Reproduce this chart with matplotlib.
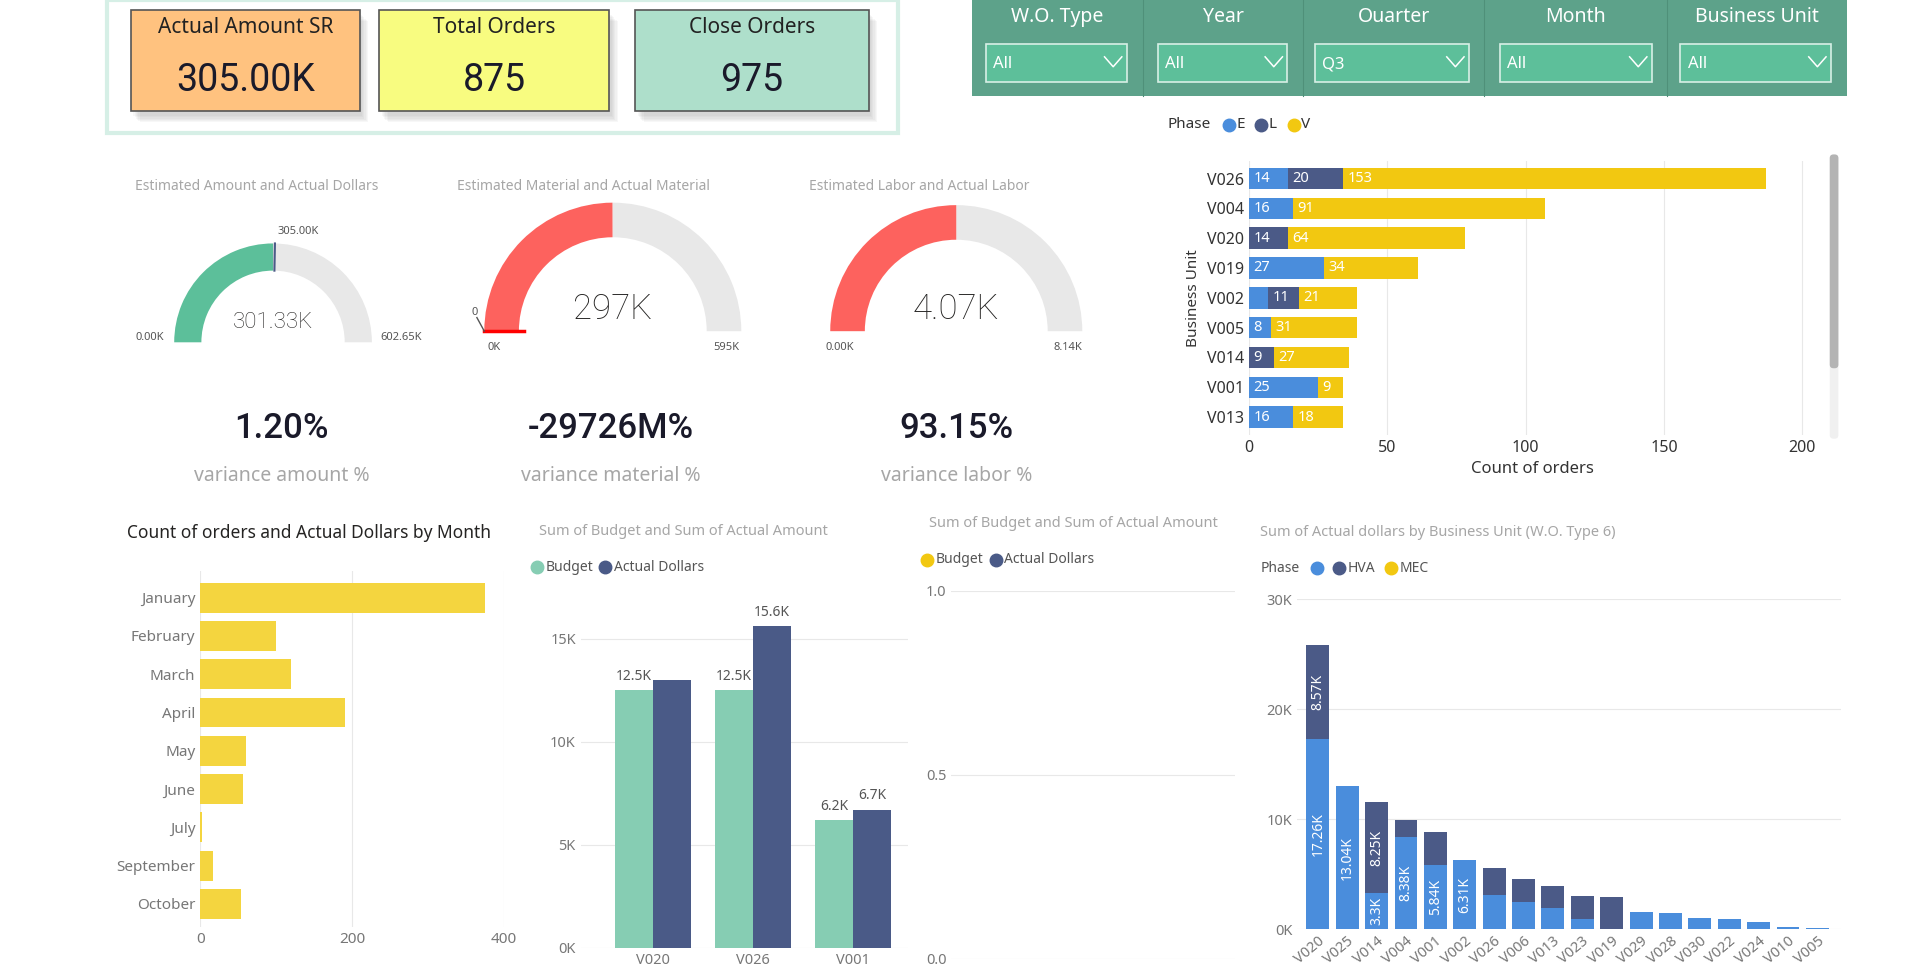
import matplotlib
matplotlib.use("Agg")
import matplotlib.pyplot as plt
from matplotlib.patches import Rectangle, Wedge, FancyBboxPatch
import numpy as np

plt.rcParams['font.family'] = ['Noto Sans', 'DejaVu Sans']

# ---- data ----
cards = ['Actual Amount SR', 'Total Orders', 'Close Orders']
card_values = ['305.00K', '875', '975']

slicers = ['W.O. Type', 'Year', 'Ouarter', 'Month', 'Business Unit']
slicer_values = ['All', 'All', 'Q3', 'All', 'All']

gauge_titles = ['Estimated Amount and Actual Dollars', 'Estimated Material and Actual Material',
                'Estimated Labor and Actual Labor']
gauge_value = [301.33, 297, 4.07]
gauge_max = [602.65, 595, 8.14]
gauge_target = 305.00
gauge_labels = ['301.33K', '297K', '4.07K']
gauge_min_labels = ['0.00K', '0K', '0.00K']
gauge_max_labels = ['602.65K', '595K', '8.14K']

kpi_values = ['1.20%', '-29726M%', '93.15%']
kpi_labels = ['variance amount %', 'variance material %', 'variance labor %']

bu_units = ['V026', 'V004', 'V020', 'V019', 'V002', 'V005', 'V014', 'V001', 'V013']
bu_e = [14, 16, 0, 27, 7, 8, 0, 25, 16]
bu_l = [20, 0, 14, 0, 11, 0, 9, 0, 0]
bu_v = [153, 91, 64, 34, 21, 31, 27, 9, 18]

months = ['January', 'February', 'March', 'April', 'May', 'June', 'July', 'September', 'October']
month_counts = [375, 100, 120, 190, 60, 57, 3, 17, 54]

budget_units = ['V020', 'V026', 'V001']
budget = [12.5, 12.5, 6.2]
actual = [13.0, 15.6, 6.7]
budget_lab = ['12.5K', '12.5K', '6.2K']
actual_lab = ['', '15.6K', '6.7K']

t6_units = ['V020', 'V025', 'V014', 'V004', 'V001', 'V002', 'V026', 'V006', 'V013', 'V023',
            'V019', 'V029', 'V028', 'V030', 'V022', 'V024', 'V010', 'V005']
t6_e = [17.26, 13.04, 3.3, 8.38, 5.84, 6.31, 3.1, 2.45, 1.9, 0.9, 0, 1.6, 1.45, 1.0, 0.9, 0.7, 0.25, 0.08]
t6_hva = [8.57, 0, 8.25, 1.6, 3.0, 0, 2.5, 2.1, 2.0, 2.1, 2.9, 0, 0, 0, 0, 0, 0, 0]
t6_e_lab = ['17.26K', '13.04K', '3.3K', '8.38K', '5.84K', '6.31K']
t6_hva_lab = {0: '8.57K', 2: '8.25K'}

C_E = '#4A8DDC'
C_L = '#4B5A87'
C_V = '#F2C811'
GRAY = '#A6A6A6'

W, H = 1550, 789
fig = plt.figure(figsize=(19.15, 9.75), dpi=100)

# overlay axes in display pixel coords
ov = fig.add_axes([0, 0, 1, 1])
ov.set_xlim(0, W)
ov.set_ylim(H, 0)
ov.axis('off')


def T(x, y, s, **kw):
    kw.setdefault('ha', 'center')
    kw.setdefault('va', 'center')
    ov.text(x, y, s, **kw)


def ax_at(x0, y0, x1, y1):
    a = fig.add_axes([x0 / W, 1 - y1 / H, (x1 - x0) / W, (y1 - y0) / H])
    for s in a.spines.values():
        s.set_visible(False)
    return a


# ---- cards ----
ov.add_patch(Rectangle((87, 0), 640, 108, fc='white', ec='#D6EFE6', lw=3))
card_x = [(106, 291), (307, 493), (514, 703)]
card_c = ['#FFC27F', '#F8FC80', '#AEDFCB']
for (x0, x1), c, t, v in zip(card_x, card_c, cards, card_values):
    for k in range(6):
        ov.add_patch(Rectangle((x0 + 2 + k, 12 + k), x1 - x0, 82, fc='#808080', alpha=0.06, ec='none'))
    ov.add_patch(Rectangle((x0, 8), x1 - x0, 82, fc=c, ec='#555555', lw=1.2))
    T((x0 + x1) / 2, 22, t, fontsize=15, color='#222222')
    T((x0 + x1) / 2, 65, v, fontsize=27, color='#1a1a2a', family=['Roboto', 'DejaVu Sans'])

# ---- slicers ----
ov.add_patch(Rectangle((787, 0), 708, 78, fc='#5DA28A', ec='none'))
div = [787, 925, 1055, 1201, 1349, 1495]
boxes = [(798, 912), (937, 1042), (1064, 1189), (1214, 1337), (1360, 1482)]
for i, (t, v) in enumerate(zip(slicers, slicer_values)):
    if i > 0:
        ov.plot([div[i], div[i]], [0, 78], color='#4F9079', lw=0.8)
    T((div[i] + div[i + 1]) / 2, 14, t, fontsize=14, color='white')
    b0, b1 = boxes[i]
    ov.add_patch(Rectangle((b0, 36), b1 - b0, 30, fc='#5DBF9A', ec='#D8F0E6', lw=1.2))
    T(b0 + 6, 52, v, fontsize=12, color='white', ha='left')
    ov.plot([b1 - 18, b1 - 11, b1 - 4], [46, 54, 46], color='white', lw=1.1)

# ---- gauges ----
g_center = [(221, 277), (496, 268), (774, 268)]
g_r = [80, 104, 102]
g_w = [22, 28, 28]
g_col = ['#5CBF9A', '#FD625E', '#FD625E']
g_title_x = [208, 472, 744]
for i in range(3):
    cx, cy = g_center[i]
    r, w = g_r[i], g_w[i]
    f = gauge_value[i] / gauge_max[i]
    ov.add_patch(Wedge((cx, cy), r, 180 + 180 * f, 360, width=w, fc='#E8E8E8', ec='none'))
    ov.add_patch(Wedge((cx, cy), r, 180, 180 + 180 * f, width=w, fc=g_col[i], ec='none'))
    T(g_title_x[i], 151, gauge_titles[i], fontsize=10, color=GRAY)
    vy = cy - 16 if i == 0 else cy - 18
    T(cx, vy, gauge_labels[i], fontsize=16 if i == 0 else 25, color='#252423',
      family=['Roboto', 'DejaVu Sans'], fontweight='light')
    ly = cy - 4 if i == 0 else cy + 13
    T(cx - r - 20 if i == 0 else cx - r + 8, ly, gauge_min_labels[i], fontsize=8, color='#555555')
    T(cx + r + 24 if i == 0 else cx + r - 12, ly, gauge_max_labels[i], fontsize=8, color='#555555')

# target needle on first gauge
cx, cy = g_center[0]
a = np.pi * (1 - gauge_target / gauge_max[0])
ov.plot([cx + (g_r[0] - g_w[0]) * np.cos(a), cx + g_r[0] * np.cos(a)],
        [cy - (g_r[0] - g_w[0]) * np.sin(a), cy - g_r[0] * np.sin(a)], color='#4B5A87', lw=1.5)
T(241, 187, '305.00K', fontsize=8, color='#555555')
# min marker on second gauge
ov.plot([392, 424], [268, 268], color='red', lw=2.5)
ov.plot([386, 392], [257, 268], color='#555555', lw=1)
T(384, 253, '0', fontsize=8, color='#555555')

kx = [228, 494, 774]
for x, v, l in zip(kx, kpi_values, kpi_labels):
    T(x, 347, v, fontsize=25, color='#1a1a2a', family=['Roboto', 'DejaVu Sans'], fontweight='medium')
    T(x, 385, l, fontsize=14, color=GRAY)

# ---- top right stacked bar ----
ax = ax_at(1011, 130, 1470, 352)
y = np.arange(len(bu_units))
left = np.zeros(len(y))
for vals, c in [(bu_e, C_E), (bu_l, C_L), (bu_v, C_V)]:
    vals = np.array(vals)
    ax.barh(y, vals, left=left, color=c, height=0.72, zorder=3)
    for yi, (l0, v) in enumerate(zip(left, vals)):
        if v >= 8:
            ax.text(l0 + 1.5, yi, str(v), color='white', fontsize=10.5, fontweight='bold', va='center', zorder=4)
    left += vals
ax.set_ylim(len(y) - 0.4, -0.6)
ax.set_xlim(0, 205)
ax.set_yticks(y)
ax.set_yticklabels(bu_units, fontsize=11.5, color='#333333')
ax.set_xticks([0, 50, 100, 150, 200])
ax.tick_params(length=0, labelsize=11.5, labelcolor='#333333')
ax.xaxis.grid(True, color='#E8E8E8', zorder=0)
ax.set_xlabel('Count of orders', fontsize=12, color='#333333')
ax.set_ylabel('Business Unit', fontsize=11, color='#333333')
ov.add_patch(FancyBboxPatch((1481, 125), 7, 230, boxstyle='round,pad=0,rounding_size=3', fc='#F0F0F0', ec='none'))
ov.add_patch(FancyBboxPatch((1481, 125), 7, 173, boxstyle='round,pad=0,rounding_size=3', fc='#B4B4B4', ec='none'))
T(945, 101, 'Phase', fontsize=11, fontweight='bold', color='#333333', ha='left')
lx = 990
for n, c in [('E', C_E), ('L', C_L), ('V', C_V)]:
    ov.plot(lx + 5, 101, 'o', color=c, ms=9)
    T(lx + 11, 101, n, fontsize=11, color='#333333', ha='left')
    lx += 26

# ---- month bars ----
ax = ax_at(162, 462, 408, 750)
ax.barh(np.arange(len(months)), month_counts, color='#F4D53F', height=0.78, zorder=3)
ax.set_ylim(len(months) - 0.4, -0.7)
ax.set_xlim(0, 400)
ax.set_yticks(np.arange(len(months)))
ax.set_yticklabels(months, fontsize=11.5, color='#252423')
ax.set_xticks([0, 200, 400])
ax.tick_params(length=0, labelsize=11, labelcolor='#777777')
ax.xaxis.grid(True, color='#E8E8E8', zorder=0)
T(250, 431, 'Count of orders and Actual Dollars by Month', fontsize=12.5, color='#252423')

# ---- budget vs actual ----
ax = ax_at(470, 480, 735, 767)
x = np.arange(len(budget_units))
bw = 0.38
ax.bar(x - bw / 2, budget, bw, color='#86CDB3', zorder=3)
ax.bar(x + bw / 2, actual, bw, color='#4A5A87', zorder=3)
for xi, b, a_, bl, al in zip(x, budget, actual, budget_lab, actual_lab):
    ax.text(xi - bw / 2, b + 0.3, bl, ha='center', va='bottom', fontsize=10, color='#555555')
    ax.text(xi + bw / 2, a_ + 0.3, al, ha='center', va='bottom', fontsize=10, color='#555555')
ax.set_ylim(0, 17.2)
ax.set_xlim(-0.72, 2.55)
ax.set_yticks([0, 5, 10, 15])
ax.set_yticklabels(['0K', '5K', '10K', '15K'])
ax.set_xticks(x)
ax.set_xticklabels(budget_units)
ax.tick_params(length=0, labelsize=10.5, labelcolor='#777777')
ax.yaxis.grid(True, color='#E8E8E8', zorder=0)
T(553, 430, 'Sum of Budget and Sum of Actual Amount', fontsize=10.5, color=GRAY)
ov.plot(435, 459, 'o', color='#86CDB3', ms=9)
T(442, 459, 'Budget', fontsize=10, color='#555555', ha='left')
ov.plot(490, 459, 'o', color='#4A5A87', ms=9)
T(497, 459, 'Actual Dollars', fontsize=10, color='#555555', ha='left')

# ---- empty chart ----
ax = ax_at(770, 478, 1000, 776)
ax.set_ylim(0, 1)
ax.set_yticks([0, 0.5, 1.0])
ax.set_yticklabels(['0.0', '0.5', '1.0'])
ax.set_xticks([])
ax.tick_params(length=0, labelsize=10.5, labelcolor='#777777')
ax.yaxis.grid(True, color='#E8E8E8')
T(869, 424, 'Sum of Budget and Sum of Actual Amount', fontsize=10.5, color=GRAY)
ov.plot(750, 453, 'o', color=C_V, ms=9)
T(757, 453, 'Budget', fontsize=10, color='#555555', ha='left')
ov.plot(806, 453, 'o', color='#4A5A87', ms=9)
T(813, 453, 'Actual Dollars', fontsize=10, color='#555555', ha='left')

# ---- W.O. type 6 ----
ax = ax_at(1050, 485, 1490, 752)
x = np.arange(len(t6_units))
ax.bar(x, t6_e, 0.78, color=C_E, zorder=3)
ax.bar(x, t6_hva, 0.78, bottom=t6_e, color=C_L, zorder=3)
for i, lab in enumerate(t6_e_lab):
    ax.text(i, t6_e[i] / 2, lab, rotation=90, ha='center', va='center', color='white', fontsize=10, fontweight='bold', zorder=4)
for i, lab in t6_hva_lab.items():
    ax.text(i, t6_e[i] + t6_hva[i] / 2, lab, rotation=90, ha='center', va='center', color='white', fontsize=10, fontweight='bold', zorder=4)
ax.set_ylim(0, 30)
ax.set_xlim(-0.7, len(x) - 0.2)
ax.set_yticks([0, 10, 20, 30])
ax.set_yticklabels(['0K', '10K', '20K', '30K'])
ax.set_xticks(x)
ax.set_xticklabels(t6_units, rotation=40, ha='right', rotation_mode='anchor')
ax.tick_params(length=0, labelsize=10.5, labelcolor='#777777')
ax.yaxis.grid(True, color='#E8E8E8', zorder=0)
T(1020, 431, 'Sum of Actual dollars by Business Unit (W.O. Type 6)', fontsize=10.5, color=GRAY, ha='left')
T(1020, 460, 'Phase', fontsize=10, fontweight='bold', color='#555555', ha='left')
ov.plot(1066, 460, 'o', color=C_E, ms=9)
ov.plot(1084, 460, 'o', color=C_L, ms=9)
T(1091, 460, 'HVA', fontsize=10, color='#555555', ha='left')
ov.plot(1126, 460, 'o', color=C_V, ms=9)
T(1133, 460, 'MEC', fontsize=10, color='#555555', ha='left')

fig.savefig('out.png', dpi=100)
